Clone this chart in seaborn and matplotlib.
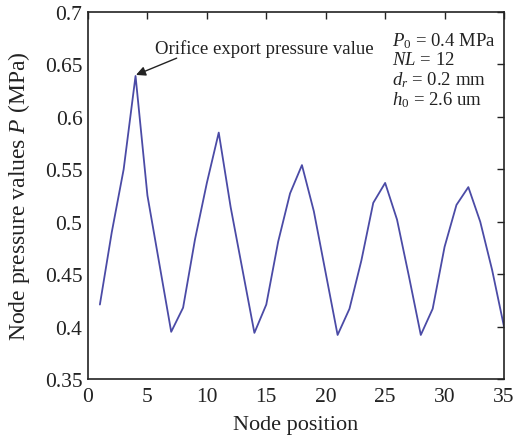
import matplotlib
matplotlib.use("Agg")
import matplotlib.pyplot as plt
import seaborn as sns
import pandas as pd

nodes = list(range(1, 36))
pressure = [0.421, 0.490, 0.550, 0.639, 0.525, 0.460, 0.395,
            0.418, 0.483, 0.537, 0.585, 0.514, 0.454, 0.394,
            0.421, 0.481, 0.527, 0.554, 0.510, 0.451, 0.392,
            0.417, 0.463, 0.518, 0.537, 0.502, 0.448, 0.392,
            0.417, 0.476, 0.516, 0.533, 0.500, 0.454, 0.400]
x_ticks = [0, 5, 10, 15, 20, 25, 30, 35]
y_ticks = [0.35, 0.4, 0.45, 0.5, 0.55, 0.6, 0.65, 0.7]
y_tick_labels = ["0.35", "0.4", "0.45", "0.5", "0.55", "0.6", "0.65", "0.7"]
annotation = "Orifice export pressure value"
params = [r"$\mathit{P}_0$ = 0.4 MPa", r"$\mathit{NL}$ = 12",
          r"$\mathit{d_r}$ = 0.2 mm", r"$\mathit{h}_0$ = 2.6 um"]

df = pd.DataFrame({"node": nodes, "p": pressure})

sns.set_theme(style="white")
plt.rcParams['font.family'] = ['Liberation Serif', 'DejaVu Serif']
plt.rcParams['mathtext.fontset'] = 'custom'
plt.rcParams['mathtext.rm'] = 'Liberation Serif'
plt.rcParams['mathtext.it'] = 'Liberation Serif:italic'

fig = plt.figure(figsize=(5.14, 4.39), dpi=100)
ax = fig.add_axes([88/514, 1 - 380/439, (504-88)/514, (380-13)/439])

sns.lineplot(data=df, x="node", y="p", ax=ax, color="#4b4ba6", linewidth=1.3)

ax.set_xlim(0, 35)
ax.set_ylim(0.35, 0.7)
ax.set_xticks(x_ticks)
ax.set_xticklabels([str(t) for t in x_ticks])
ax.set_yticks(y_ticks)
ax.set_yticklabels(y_tick_labels)
ax.tick_params(direction="in", top=True, right=True, length=5, width=1,
               labelsize=15.5, color="#222222", labelcolor="#222222")
ax.tick_params(axis="x", pad=6)
ax.tick_params(axis="y", pad=4)
for s in ax.spines.values():
    s.set_color("#222222")
    s.set_linewidth(1.2)

ax.set_xlabel("Node position", fontsize=16, color="#222222", labelpad=6)
ax.set_ylabel(r"Node pressure values $\mathit{P}$ (MPa)", fontsize=17, color="#222222", labelpad=9)

ax.text(5.6, 0.6657, annotation, fontsize=13.5, color="#222222", va="center")
ax.annotate("", xy=(nodes[3] + 0.04, pressure[3] + 0.001), xytext=(7.46, 0.656),
            arrowprops=dict(arrowstyle="-|>", color="#222222", lw=1.0,
                            mutation_scale=14, shrinkA=0, shrinkB=0))

for i, t in enumerate(params):
    ax.text(25.55, 0.6733 - i * 0.0188, t, fontsize=13.5, color="#222222", va="center")

fig.savefig("out.png", dpi=100)
